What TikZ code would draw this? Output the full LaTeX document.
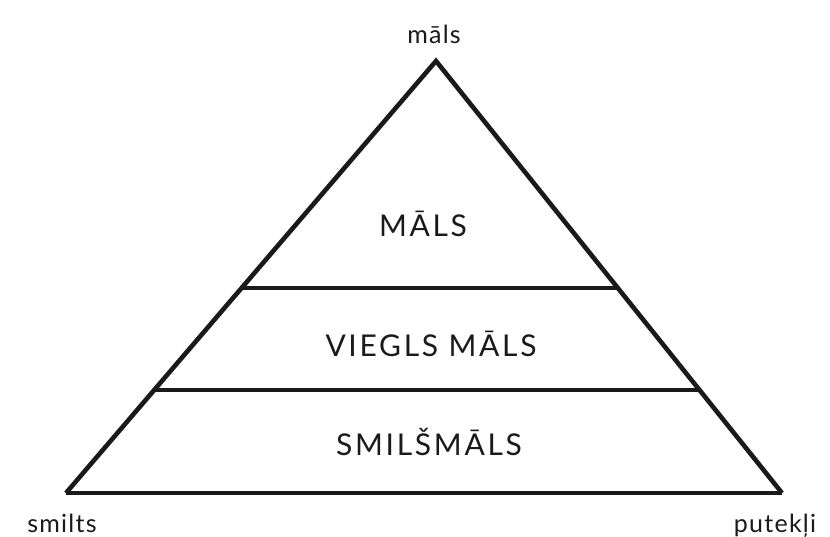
\documentclass[tikz,border=0pt]{standalone}
\usepackage{fontspec}
\setmainfont{Lato}
\newfontfamily\capsfont{Lato}[LetterSpace=9]
\newfontfamily\smallfont{Lato}[LetterSpace=5]
\usetikzlibrary{calc}
\definecolor{ink}{HTML}{1A1A1A}
\tikzset{
  side/.style={draw=ink, line width=4.6pt, line join=miter},
  band/.style={draw=ink, line width=3.4pt},
  bigtext/.style={text=ink, font=\capsfont\fontsize{30}{33}\selectfont, anchor=base, inner sep=0pt},
  cornertext/.style={text=ink, font=\smallfont\fontsize{25}{28}\selectfont, anchor=base, inner sep=0pt}
}
\begin{document}
\begin{tikzpicture}[x=1pt,y=-1pt]
  \fill[white] (0,0) rectangle (830,536);
  \useasboundingbox (0,0) rectangle (830,536);
  \coordinate (apex) at (436,61);
  \coordinate (bl) at (66,493);
  \coordinate (br) at (782,493);
  \coordinate (l1) at ($(apex)!0.5255!(bl)$);
  \coordinate (r1) at ($(apex)!0.5255!(br)$);
  \coordinate (l2) at ($(apex)!0.7616!(bl)$);
  \coordinate (r2) at ($(apex)!0.7616!(br)$);
  \draw[band] (l1) -- (r1);
  \draw[band] (l2) -- (r2);
  \draw[band] (bl) -- (br);
  \draw[side] (bl) -- (apex) -- (br);
  \node[cornertext] (top) at (434,43) {māls};
  \node[bigtext] (clay) at (423,236) {MĀLS};
  \node[bigtext] (light) at (431,356) {VIEGLS MĀLS};
  \node[bigtext] (loam) at (429,455) {SMILŠMĀLS};
  \node[cornertext] (sand) at (62,532) {smilts};
  \node[cornertext] (dust) at (775,532) {putekļi};
\end{tikzpicture}
\end{document}
